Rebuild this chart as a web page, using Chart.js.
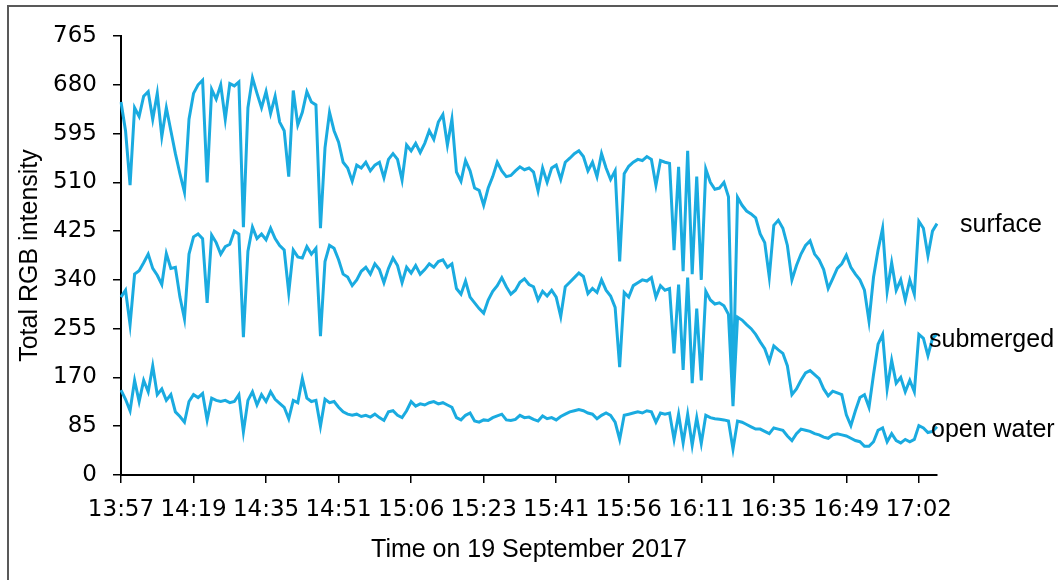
<!DOCTYPE html>
<html>
<head>
<meta charset="utf-8">
<script src="https://cdn.jsdelivr.net/npm/chart.js@4.4.1/dist/chart.umd.min.js"></script>
<style>
    html, body { margin: 0; padding: 0; background: #fff; }
    #wrap { position: relative; width: 1058px; height: 580px; overflow: hidden; }
    #frame { position: absolute; left: 7px; top: 5px; width: 1100px; height: 620px;
             border-top: 2px solid #595959; border-left: 2px solid #595959; }
    #grafico { position: absolute; left: 0; top: 0; }
</style>
</head>
<body>
<div id="wrap">
    <div id="frame"></div>
    <canvas id="grafico" width="1058" height="580"></canvas>
</div>
<script>
// tick labels, one every 16 samples
const timeTicks = ['13:57', '14:19', '14:35', '14:51', '15:06', '15:23', '15:41', '15:56', '16:11', '16:35', '16:49', '17:02'];
const sampleStep = 16;

const seriesNames = ['surface', 'submerged', 'open water'];

const surface = [
    650, 600, 505, 640, 625, 660, 668, 620, 665, 590, 640, 600, 560, 525, 493, 620,
    665, 680, 688, 510, 672, 655, 680, 620, 682, 678, 685, 432, 640, 692, 665, 640,
    668, 630, 660, 615, 600, 520, 670, 610, 632, 668, 650, 645, 430, 570, 632, 600,
    580, 545, 535, 512, 540, 535, 545, 530, 540, 545, 518, 550, 560, 550, 514, 575,
    565, 578, 562, 578, 600, 585, 615, 628, 575, 620, 528, 512, 548, 530, 500, 496,
    470, 500, 520, 545, 530, 520, 522, 530, 537, 532, 535, 528, 495, 535, 510, 535,
    540, 515, 545, 552, 560, 565, 555, 530, 545, 520, 560, 535, 515, 530, 372, 525,
    538, 545, 550, 548, 555, 550, 505, 548, 545, 543, 392, 537, 355, 565, 350, 520,
    340, 533, 510, 498, 500, 510, 485, 150, 484, 470, 460, 455, 448, 420, 405, 345,
    435, 444, 430, 400, 340, 365, 385, 400, 408, 385, 375, 358, 325, 342, 360, 368,
    383, 362, 350, 340, 322, 268, 345, 392, 430, 320, 370, 322, 340, 305, 340, 315,
    442, 430, 382, 425, 438
];

const submerged = [
    310, 322, 262, 350, 356, 370, 385, 360, 348, 332, 386, 360, 362, 310, 272, 385,
    415, 420, 412, 300, 418, 405, 385, 398, 402, 425, 420, 240, 390, 432, 412, 420,
    410, 430, 412, 400, 392, 318, 392, 380, 378, 398, 385, 395, 242, 372, 400, 395,
    375, 350, 345, 330, 340, 355, 362, 350, 368, 358, 335, 360, 378, 365, 335, 362,
    352, 365, 350, 358, 368, 362, 372, 375, 362, 368, 325, 315, 338, 310, 300, 290,
    282, 305, 320, 330, 344, 328, 315, 322, 336, 342, 332, 328, 305, 320, 312, 322,
    310, 276, 328, 336, 344, 352, 346, 316, 325, 318, 340, 322, 312, 292, 188, 318,
    310, 330, 335, 340, 338, 344, 310, 330, 322, 325, 212, 332, 183, 344, 160, 290,
    165, 320, 305, 298, 300, 295, 280, 120, 275, 270, 262, 255, 245, 232, 220, 198,
    225, 218, 212, 190, 140, 150, 165, 178, 182, 175, 168, 150, 138, 146, 143, 140,
    105, 86, 112, 135, 140, 118, 175, 228, 245, 150, 200, 160, 170, 145, 165, 145,
    245, 238, 208, 238, 246
];

const openWater = [
    148, 132, 112, 165, 128, 165, 145, 190, 140, 150, 130, 140, 110, 102, 92, 128,
    140, 135, 142, 96, 134, 130, 128, 130, 126, 128, 140, 75, 130, 145, 122, 140,
    128, 145, 132, 125, 118, 98, 130, 126, 168, 134, 128, 130, 85, 132, 126, 128,
    118, 110, 106, 104, 106, 102, 104, 101, 106, 100, 95, 110, 112, 104, 100, 112,
    128, 120, 124, 122, 126, 128, 124, 126, 122, 118, 100, 96, 104, 108, 94, 92,
    96, 95, 100, 103, 106, 96, 95, 97, 104, 100, 101, 97, 94, 103, 98, 100,
    96, 102, 106, 110, 112, 114, 112, 108, 106, 98, 104, 108, 104, 92, 62, 104,
    106, 108, 110, 108, 112, 110, 92, 108, 106, 108, 62, 106, 56, 106, 52, 100,
    55, 104, 100, 98, 97, 96, 94, 45, 94, 92, 88, 84, 80, 80, 76, 72,
    82, 80, 78, 68, 60, 72, 80, 78, 76, 72, 70, 66, 64, 70, 72, 70,
    68, 64, 60, 58, 50, 50, 58, 78, 82, 58, 72, 60, 56, 62, 58, 62,
    86, 82, 74, 76, 84
];

// where each series name sits, in y-axis units, and its shift from the plot's right edge
const nameAnchors = [423, 223, 66];
const nameShift = [23, -8, -6];

const amostras = surface.map((_, i) => i);
const corLinha = '#1aabe0';

const nomesPlugin = {
    id: 'nomes',
    afterDatasetsDraw(chart) {
        const { ctx, chartArea, scales } = chart;
        ctx.save();
        ctx.font = '25px "Liberation Sans", Arial, sans-serif';
        ctx.fillStyle = '#000';
        ctx.textAlign = 'left';
        ctx.textBaseline = 'alphabetic';
        seriesNames.forEach((nome, i) => {
            ctx.fillText(nome, chartArea.right + nameShift[i], scales.y.getPixelForValue(nameAnchors[i]));
        });
        ctx.restore();
    }
};

const linha = dados => ({
    data: dados,
    borderColor: corLinha,
    borderWidth: 3,
    pointRadius: 0,
    tension: 0,
    fill: false
});

new Chart(document.getElementById('grafico').getContext('2d'), {
    type: 'line',
    data: {
        labels: amostras,
        datasets: [linha(surface), linha(submerged), linha(openWater)].map((d, i) => ({ ...d, label: seriesNames[i] }))
    },
    options: {
        responsive: false,
        animation: false,
        devicePixelRatio: 1,
        layout: { padding: { left: 10, top: 36, right: 121, bottom: 15 } },
        plugins: {
            legend: { display: false },
            tooltip: { enabled: false }
        },
        scales: {
            x: {
                type: 'category',
                offset: false,
                grid: { drawOnChartArea: false, drawTicks: true, tickLength: 8, color: '#000', lineWidth: 1.5 },
                border: { color: '#000', width: 2 },
                ticks: {
                    autoSkip: false,
                    maxRotation: 0,
                    minRotation: 0,
                    padding: 13,
                    color: '#000',
                    font: { family: '"DejaVu Sans", sans-serif', size: 23 },
                    callback: (value, index) => index % sampleStep === 0 ? timeTicks[index / sampleStep] : null
                },
                title: {
                    display: true,
                    text: 'Time on 19 September 2017',
                    color: '#000',
                    font: { family: '"Liberation Sans", Arial, sans-serif', size: 25 },
                    padding: { top: 0, bottom: 0 }
                },
                afterFit: scale => { scale.height = 90; }
            },
            y: {
                min: 0,
                max: 765,
                grid: { drawOnChartArea: false, drawTicks: true, tickLength: 8, color: '#000', lineWidth: 1.5 },
                border: { color: '#000', width: 2 },
                ticks: {
                    stepSize: 85,
                    padding: 16,
                    color: '#000',
                    font: { family: '"DejaVu Sans", sans-serif', size: 23 }
                },
                title: {
                    display: true,
                    text: 'Total RGB intensity',
                    color: '#000',
                    font: { family: '"Liberation Sans", Arial, sans-serif', size: 25 },
                    padding: { top: 5, bottom: 0 }
                },
                afterFit: scale => { scale.width = 111; }
            }
        }
    },
    plugins: [nomesPlugin]
});
</script>
</body>
</html>
